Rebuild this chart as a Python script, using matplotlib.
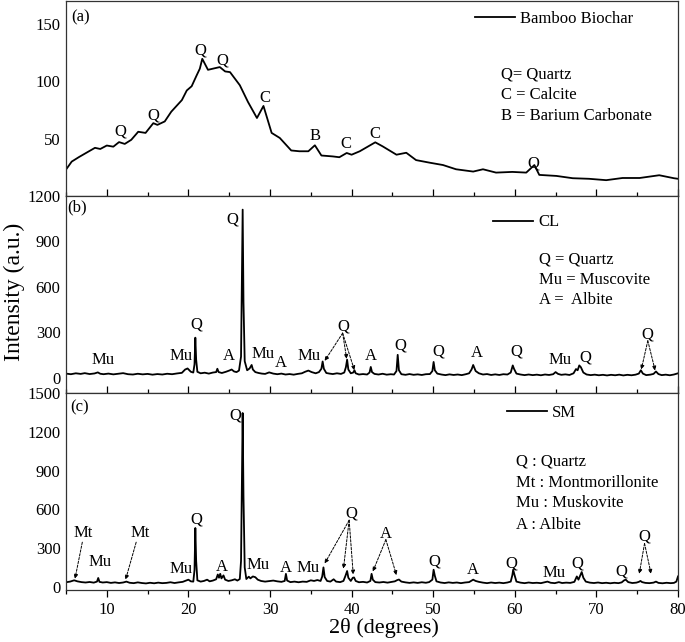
import numpy as np
import matplotlib
matplotlib.use("Agg")
import matplotlib.pyplot as plt
from matplotlib.lines import Line2D
from matplotlib.ticker import MultipleLocator

plt.rcParams['font.family'] = ['Liberation Serif', 'DejaVu Serif']

# (a) Bamboo biochar - broad amorphous pattern (2theta, intensity)
biochar = [(5.0, 23), (5.7, 30), (6.6, 34), (7.5, 37.7), (8.55, 42), (9.2, 41), (10.0, 44),
           (10.8, 43), (11.5, 47), (12.2, 45.4), (13.0, 49), (13.85, 56), (14.75, 55),
           (15.7, 63.5), (16.2, 62), (17.1, 65), (17.9, 73.5), (19.2, 83.6), (19.8, 92),
           (20.4, 95.7), (21.0, 105), (21.4, 111), (21.7, 119.6), (22.4, 110), (23.0, 111),
           (23.85, 112.4), (24.5, 108.6), (25.1, 108), (26.3, 96.6), (27.3, 82), (28.4, 68),
           (29.2, 78.5), (30.2, 55), (31.2, 50.6), (32.6, 39.7), (33.6, 39), (34.7, 39),
           (35.5, 44.2), (36.3, 35.3), (37.7, 34.5), (38.5, 33.8), (39.4, 37.5), (40.0, 36),
           (41.0, 39), (42.9, 46.8), (43.8, 43.3), (45.5, 36), (46.7, 37.7), (47.9, 31.3),
           (49.6, 29), (51.2, 27), (52.8, 23.3), (54.9, 21.3), (56.1, 23.3), (57.7, 20.4),
           (59.7, 21), (61.4, 20.4), (62.4, 27), (63.0, 18.4), (65.1, 17.5), (67.1, 15.5),
           (69.1, 15), (71.2, 13.8), (73.2, 15.7), (75.3, 15.7), (77.7, 18.1), (79.5, 15.5),
           (80.0, 15)]

# (b) CL pattern
cl = [(5.0, 28), (5.6, 24), (6.2, 30), (6.8, 26), (7.3, 31), (7.9, 25), (8.5, 29), (8.9, 36),
      (9.2, 27), (9.6, 24), (10.2, 28), (10.8, 23), (11.4, 27), (12.0, 31), (12.6, 24),
      (13.2, 22), (13.8, 27), (14.4, 23), (15.0, 26), (15.6, 21), (16.2, 25), (16.8, 22),
      (17.4, 27), (18.0, 24), (18.6, 29), (19.2, 33), (19.6, 55), (19.9, 62), (20.3, 40),
      (20.6, 35), (20.75, 90), (20.85, 265), (20.95, 120), (21.1, 40), (21.5, 30), (22.0, 34),
      (22.5, 28), (23.0, 35), (23.4, 38), (23.55, 60), (23.7, 38), (24.1, 32), (24.6, 40),
      (25.0, 48), (25.3, 55), (25.6, 42), (25.9, 38), (26.2, 48), (26.45, 140), (26.55, 600),
      (26.65, 1110), (26.75, 500), (26.9, 110), (27.2, 50), (27.5, 62), (27.75, 85),
      (27.9, 55), (28.2, 38), (28.6, 32), (29.0, 28), (29.4, 26), (29.9, 36), (30.4, 28),
      (30.9, 24), (31.4, 28), (31.9, 22), (32.4, 25), (32.9, 21), (33.4, 26), (33.9, 30),
      (34.3, 40), (34.7, 48), (35.1, 38), (35.6, 30), (36.0, 38), (36.3, 60), (36.45, 108),
      (36.6, 60), (36.9, 32), (37.3, 28), (37.7, 25), (38.2, 30), (38.7, 26), (39.1, 35),
      (39.3, 70), (39.45, 120), (39.6, 55), (39.9, 30), (40.2, 35), (40.35, 50), (40.5, 30),
      (40.9, 22), (41.4, 25), (41.9, 22), (42.2, 35), (42.35, 72), (42.5, 38), (42.8, 26),
      (43.3, 22), (43.8, 27), (44.3, 21), (44.8, 24), (45.2, 22), (45.5, 45), (45.65, 152),
      (45.8, 50), (46.1, 24), (46.6, 20), (47.1, 25), (47.6, 20), (48.1, 23), (48.6, 19),
      (49.1, 24), (49.6, 25), (49.9, 45), (50.05, 105), (50.2, 50), (50.5, 28), (51.0, 22),
      (51.5, 18), (52.0, 23), (52.5, 19), (53.0, 22), (53.5, 18), (54.0, 24), (54.4, 30),
      (54.7, 55), (54.9, 85), (55.2, 45), (55.6, 30), (56.1, 22), (56.6, 25), (57.1, 19),
      (57.6, 23), (58.1, 19), (58.6, 24), (59.1, 22), (59.5, 35), (59.75, 82), (59.9, 60),
      (60.2, 28), (60.7, 22), (61.2, 18), (61.7, 22), (62.2, 18), (62.7, 21), (63.2, 17),
      (63.7, 22), (64.2, 19), (64.7, 24), (65.0, 38), (65.3, 26), (65.7, 20), (66.2, 23),
      (66.7, 19), (67.2, 30), (67.5, 58), (67.7, 50), (67.9, 82), (68.1, 70), (68.4, 35),
      (68.8, 22), (69.3, 18), (69.8, 21), (70.3, 17), (70.8, 20), (71.3, 16), (71.8, 20),
      (72.3, 17), (72.8, 21), (73.3, 16), (73.8, 20), (74.3, 17), (74.8, 21), (75.2, 28),
      (75.45, 50), (75.7, 28), (76.1, 18), (76.6, 21), (77.0, 26), (77.3, 42), (77.6, 25),
      (78.0, 18), (78.5, 21), (79.0, 17), (79.5, 22), (80.0, 30)]

# (c) SM pattern
sm = [(5.0, 35), (5.5, 40), (6.0, 50), (6.4, 42), (6.9, 36), (7.4, 33), (7.9, 37), (8.4, 32),
      (8.8, 40), (8.95, 68), (9.1, 38), (9.5, 33), (10.0, 36), (10.5, 30), (11.0, 34),
      (11.5, 29), (12.0, 33), (12.4, 40), (12.8, 31), (13.3, 28), (13.8, 34), (14.3, 29),
      (14.8, 26), (15.3, 31), (15.8, 27), (16.3, 32), (16.8, 28), (17.3, 30), (17.8, 35),
      (18.3, 29), (18.8, 34), (19.3, 38), (19.7, 48), (20.0, 55), (20.3, 42), (20.6, 40),
      (20.75, 130), (20.85, 455), (20.95, 200), (21.1, 50), (21.5, 40), (21.9, 45), (22.3, 55),
      (22.6, 42), (23.0, 48), (23.4, 58), (23.6, 95), (23.75, 70), (23.9, 100), (24.05, 65),
      (24.3, 88), (24.5, 55), (24.9, 45), (25.3, 50), (25.7, 58), (26.0, 48), (26.3, 60),
      (26.45, 200), (26.55, 800), (26.65, 1345), (26.75, 700), (26.9, 150), (27.1, 60),
      (27.4, 78), (27.6, 65), (27.9, 80), (28.2, 74), (28.5, 55), (28.9, 45), (29.4, 40),
      (29.9, 44), (30.4, 48), (30.9, 42), (31.4, 38), (31.8, 45), (31.95, 100), (32.1, 48),
      (32.5, 36), (33.0, 40), (33.5, 35), (34.0, 40), (34.5, 38), (35.0, 50), (35.4, 45),
      (35.8, 52), (36.2, 45), (36.4, 80), (36.55, 150), (36.7, 75), (37.0, 45), (37.4, 40),
      (37.8, 58), (38.1, 40), (38.6, 36), (39.0, 45), (39.25, 85), (39.45, 122), (39.6, 70),
      (39.9, 45), (40.15, 70), (40.3, 72), (40.5, 45), (40.9, 35), (41.4, 38), (41.9, 33),
      (42.3, 45), (42.45, 100), (42.6, 55), (42.9, 36), (43.4, 33), (43.9, 37), (44.4, 32),
      (44.9, 38), (45.3, 42), (45.6, 52), (45.8, 56), (46.1, 40), (46.6, 34), (47.1, 30),
      (47.6, 34), (48.1, 30), (48.6, 35), (49.1, 31), (49.5, 36), (49.9, 55), (50.05, 132),
      (50.2, 85), (50.4, 42), (50.9, 33), (51.4, 29), (51.9, 34), (52.4, 30), (52.9, 33),
      (53.4, 28), (53.9, 33), (54.4, 36), (54.7, 48), (54.9, 55), (55.2, 45), (55.6, 38),
      (56.1, 32), (56.6, 28), (57.1, 33), (57.6, 29), (58.1, 32), (58.6, 28), (59.1, 33),
      (59.5, 40), (59.7, 90), (59.8, 132), (59.95, 95), (60.2, 40), (60.7, 32), (61.2, 28),
      (61.7, 33), (62.2, 29), (62.7, 31), (63.2, 28), (63.7, 36), (64.0, 40), (64.4, 31),
      (64.9, 28), (65.4, 36), (65.8, 29), (66.3, 32), (66.8, 30), (67.3, 38), (67.6, 80),
      (67.8, 55), (68.0, 85), (68.2, 114), (68.4, 70), (68.7, 40), (69.2, 32), (69.7, 29),
      (70.2, 33), (70.7, 28), (71.2, 31), (71.7, 27), (72.2, 31), (72.7, 28), (73.1, 34),
      (73.4, 50), (73.6, 55), (73.9, 36), (74.4, 29), (74.9, 32), (75.2, 38), (75.4, 45),
      (75.6, 36), (76.0, 30), (76.5, 28), (77.0, 32), (77.3, 40), (77.6, 30), (78.1, 27),
      (78.6, 31), (79.1, 28), (79.5, 30), (79.8, 40), (80.0, 80)]

series_names = ['Bamboo Biochar', 'CL', 'SM']
panel_tags = ['(a)', '(b)', '(c)']
y_limits = [(0, 170), (-100, 1200), (-25, 1500)]
y_ticks = [[50, 100, 150], [0, 300, 600, 900, 1200], [0, 300, 600, 900, 1200, 1500]]

key_a = ['Q= Quartz', 'C = Calcite', 'B = Barium Carbonate']
key_b = ['Q = Quartz', 'Mu = Muscovite', 'A =  Albite']
key_c = ['Q : Quartz', 'Mt : Montmorillonite', 'Mu : Muskovite', 'A : Albite']

# peak labels: (text, 2theta, intensity)
labels_a = [('Q', 11.7, 56), ('Q', 15.7, 70.5), ('Q', 21.5, 126.5), ('Q', 24.2, 118),
            ('C', 29.4, 85), ('B', 35.5, 52), ('C', 39.35, 45), ('C', 42.9, 54), ('Q', 62.3, 28.5)]
labels_b = [('Mu', 9.6, 120), ('Mu', 19.1, 142), ('Q', 21.0, 353), ('A', 25.0, 142),
            ('Q', 25.35, 1043), ('Mu', 29.15, 160), ('A', 31.3, 98), ('Mu', 34.8, 142),
            ('Q', 38.95, 342), ('A', 42.4, 142), ('Q', 46.0, 213), ('Q', 50.65, 176),
            ('A', 55.3, 164), ('Q', 60.2, 176), ('Mu', 65.5, 120), ('Q', 68.7, 131),
            ('Q', 76.3, 287)]
labels_c = [('Mt', 7.1, 416), ('Mu', 9.2, 188), ('Mt', 14.05, 416), ('Mu', 19.15, 137),
            ('Q', 21.0, 519), ('A', 24.05, 153), ('Q', 25.8, 1325), ('Mu', 28.55, 170),
            ('A', 31.9, 145), ('Mu', 34.65, 145), ('Q', 40.0, 571), ('A', 44.25, 410),
            ('Q', 50.1, 196), ('A', 54.85, 132), ('Q', 59.55, 183), ('Mu', 64.85, 106),
            ('Q', 67.7, 178), ('Q', 73.0, 119), ('Q', 75.9, 390)]

# dashed pointers: (from 2theta, from int, to 2theta, to int)
pointers_b = [(38.9, 295, 36.7, 112), (38.9, 295, 39.4, 125), (38.9, 295, 40.35, 50),
              (76.3, 245, 75.5, 55), (76.3, 245, 77.2, 48)]
pointers_c = [(7.0, 345, 6.1, 62), (13.6, 345, 12.3, 55), (39.7, 515, 36.7, 180),
              (39.7, 515, 39.0, 140), (39.7, 515, 40.2, 95), (44.2, 365, 42.6, 118),
              (44.2, 365, 45.5, 90), (75.9, 335, 75.25, 100), (75.9, 335, 76.7, 100)]

fig = plt.figure(figsize=(6.85, 6.42), dpi=100)
left, width = 66 / 685, 612 / 685
boxes = [(1 - 196 / 642, 195 / 642), (1 - 393 / 642, 197 / 642), (1 - 590 / 642, 197 / 642)]
patterns = [biochar, cl, sm]
all_labels = [labels_a, labels_b, labels_c]
all_pointers = [[], pointers_b, pointers_c]
keys = [key_a, key_b, key_c]
key_pos = [(58.3, [106, 88, 70]), (63.0, [780, 647, 513]), (60.15, [966, 803, 648, 480])]
legend_pos = [(0.668, 0.908), (0.698, 0.866), (0.720, 0.897)]
tag_pos = [(5.6, 156), (5.2, 1127), (5.5, 1391)]

for i in range(3):
    y0, h = boxes[i]
    ax = fig.add_axes([left, y0, width, h])
    tt, yy = np.array(patterns[i]).T
    ax.plot(tt, yy, color='black', lw=1.3)
    ax.set_xlim(5, 80)
    ax.set_ylim(*y_limits[i])
    ax.set_yticks(y_ticks[i])
    ax.xaxis.set_major_locator(MultipleLocator(10))
    ax.xaxis.set_minor_locator(MultipleLocator(5))
    for s in ax.spines.values():
        s.set_color('#333333')
        s.set_linewidth(0.9)
    ax.tick_params(axis='y', length=0, pad=4, labelsize=12)
    if i < 2:
        ax.tick_params(axis='x', which='both', direction='in', labelbottom=False)
    else:
        ax.tick_params(axis='x', which='both', direction='out', labelsize=12)
    ax.tick_params(axis='x', which='major', length=5, width=0.9)
    ax.tick_params(axis='x', which='minor', length=3, width=0.9)

    ax.text(tag_pos[i][0], tag_pos[i][1], panel_tags[i], fontsize=12, va='center', ha='left')
    for lab, x, y in all_labels[i]:
        ax.text(x, y, lab, fontsize=12, ha='center', va='center')
    for x1, y1, x2, y2 in all_pointers[i]:
        ax.annotate('', xy=(x2, y2), xytext=(x1, y1),
                    arrowprops=dict(arrowstyle='-|>', lw=0.7, ls=(0, (2.5, 1.5)),
                                    color='black', mutation_scale=6, shrinkA=0, shrinkB=0))
    kx, kys = key_pos[i]
    for line, ky in zip(keys[i], kys):
        ax.text(kx, ky, line, fontsize=12, ha='left', va='center')
    handle = Line2D([], [], color='black', lw=1.3)
    ax.legend([handle], [series_names[i]], loc='center left', bbox_to_anchor=legend_pos[i],
              frameon=False, fontsize=12, handlelength=2.4, handletextpad=0.3,
              borderpad=0, borderaxespad=0)

fig.text(14 / 685, 1 - 292 / 642, 'Intensity (a.u.)', rotation=90, fontsize=17,
         ha='center', va='center')
fig.text(384 / 685, 1 - 628 / 642, '2θ (degrees)', fontsize=16, ha='center', va='center')

fig.savefig('out.png', dpi=100)
